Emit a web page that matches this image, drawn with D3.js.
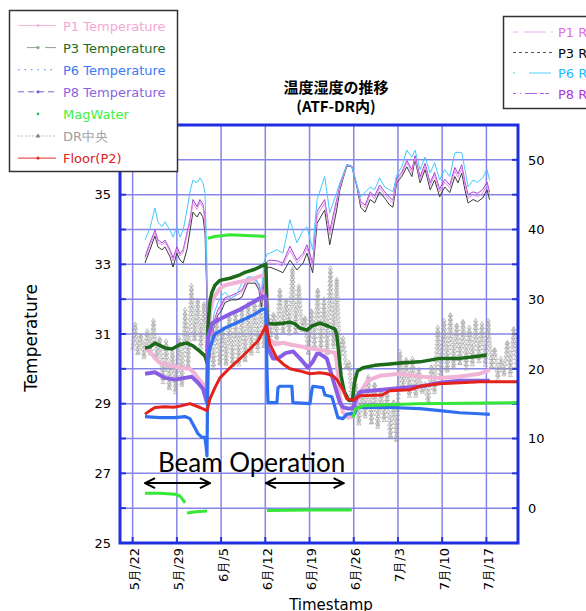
<!DOCTYPE html>
<html><head><meta charset="utf-8">
<script src="https://cdn.jsdelivr.net/npm/d3@7"></script>
<style>body{margin:0;background:#fff;} svg{display:block;}</style>
</head><body>
<svg id="c" width="586" height="611"></svg>
<script>
// ---------- DATA (x = days after 5/20) ----------
const dayTicks = [2, 9, 16, 23, 30, 37, 44, 51, 58];
const dayLabels = ["5月/22","5月/29","6月/5","6月/12","6月/19","6月/26","7月/3","7月/10","7月/17"];
const leftTicks = [25, 27, 29, 31, 33, 35];
const rightTicks = [0, 10, 20, 30, 40, 50];

const p3Temp = [[3.96,30.6],[4.75,30.63],[5.54,30.74],[7.12,30.6],[8.23,30.57],[9.49,30.7],[10.6,30.74],[11.55,30.66],[12.66,30.5],[13.45,30.37],[13.77,30.17],[13.92,31.2],[14.24,31.94],[14.56,32.2],[15.03,32.4],[15.82,32.54],[17.41,32.6],[18.99,32.7],[19.78,32.77],[21.36,32.86],[22.63,32.97],[23.1,33.0],[23.26,31.6],[23.42,31.3],[24.53,31.29],[25.79,31.31],[26.9,31.34],[27.69,31.29],[28.48,31.17],[29.59,31.11],[30.38,31.23],[31.65,31.31],[32.91,31.23],[34.02,31.14],[34.3,31.0],[34.65,30.4],[35.0,29.8],[35.5,29.35],[36.2,29.1],[36.8,29.1],[37.1,29.6],[37.6,29.94],[38.45,30.03],[40.35,30.1],[42.72,30.14],[44.3,30.17],[47.47,30.2],[50.63,30.3],[53.8,30.3],[56.96,30.37],[58.07,30.4]];
const p1Temp = [[3.96,30.6],[4.75,30.5],[5.54,30.3],[6.33,30.17],[7.12,30.14],[7.91,30.09],[9.49,30.03],[11.08,30.0],[11.87,29.86],[12.66,29.66],[13.45,29.5],[13.77,29.37],[13.92,30.6],[14.24,31.6],[14.56,31.9],[15.03,32.1],[15.82,32.3],[16.61,32.4],[18.99,32.5],[20.57,32.55],[22.0,32.65],[23.1,32.7],[23.26,31.5],[23.42,30.9],[24.53,30.7],[25.79,30.75],[26.9,30.7],[28.48,30.65],[29.59,30.6],[31.65,30.55],[32.91,30.5],[34.02,30.46],[34.3,30.2],[34.81,29.2],[35.28,28.75],[36.08,28.6],[36.71,28.63],[37.18,28.9],[37.66,29.2],[38.45,29.45],[39.2,29.66],[41.1,29.8],[44.3,29.86],[47.47,29.78],[50.63,29.74],[53.8,29.78],[56.96,29.86],[58.54,29.97]];
const p8Temp = [[3.96,29.86],[5.54,29.9],[7.12,29.74],[8.7,29.69],[10.28,29.74],[11.39,29.77],[12.34,29.6],[13.13,29.43],[13.77,29.03],[13.92,30.9],[14.56,31.3],[15.82,31.43],[17.41,31.57],[18.99,31.7],[20.57,31.86],[21.84,32.0],[22.94,32.09],[23.1,32.0],[23.26,31.0],[23.42,30.6],[24.2,30.3],[25.0,30.3],[26.2,30.45],[27.4,30.5],[28.48,30.3],[29.75,30.03],[30.5,30.2],[31.17,30.43],[31.65,30.43],[32.75,30.29],[33.7,29.7],[34.81,29.03],[35.28,28.9],[36.08,28.86],[36.87,28.86],[37.5,29.2],[38.0,29.34],[43.2,29.43],[47.47,29.49],[50.63,29.6],[53.8,29.66],[58.54,29.66]];
const p6Temp = [[3.96,28.63],[6.33,28.6],[8.7,28.6],[10.28,28.63],[11.08,28.57],[11.87,28.3],[12.34,28.14],[12.97,28.03],[13.45,28.03],[13.61,27.8],[13.77,27.5],[13.92,30.3],[14.24,30.6],[15.03,31.0],[16.61,31.17],[18.2,31.3],[19.78,31.43],[21.36,31.57],[22.47,31.7],[23.1,31.72],[23.26,30.0],[23.42,29.03],[24.84,29.03],[25.0,29.45],[25.3,29.5],[27.2,29.5],[27.37,29.03],[30.06,29.0],[30.38,29.4],[30.54,29.5],[32.1,29.46],[32.44,29.25],[33.54,29.2],[34.02,28.9],[34.49,28.6],[35.28,28.57],[35.92,28.7],[37.18,28.72],[37.5,28.89],[42.72,28.89],[47.47,28.86],[50.63,28.8],[53.8,28.74],[56.96,28.71],[58.54,28.69]];
const floorTemp = [[3.96,28.7],[4.75,28.8],[5.54,28.89],[7.12,28.91],[8.5,28.9],[9.49,28.93],[11.08,29.0],[12.66,28.89],[13.77,28.8],[14.24,29.14],[15.03,29.46],[15.82,29.74],[17.41,30.03],[18.99,30.29],[20.57,30.57],[21.84,30.8],[23.1,31.23],[23.26,31.14],[23.73,30.71],[24.84,30.3],[25.8,30.14],[26.9,30.0],[28.48,29.94],[30.06,29.86],[31.65,29.89],[32.75,29.86],[33.7,29.8],[34.3,29.7],[35.28,29.4],[35.9,29.14],[36.9,29.1],[38.0,29.23],[41.5,29.25],[42.72,29.37],[45.9,29.4],[47.47,29.5],[50.63,29.57],[53.8,29.6],[56.96,29.63],[62.97,29.63]];
const magWater = [[3.96,26.43],[6.33,26.43],[8.7,26.4],[9.49,26.35],[10.0,26.23],[10.3,26.15],[10.4,null],[10.6,25.86],[12.0,25.9],[13.77,25.92],[13.85,null],[13.92,33.75],[15.0,33.8],[17.4,33.85],[20.0,33.83],[23.1,33.8],[23.2,null],[23.26,25.93],[30.0,25.95],[36.7,25.95],[36.8,null],[36.87,28.6],[37.3,28.85],[38.5,28.94],[47.0,29.0],[63.0,29.03]];
const drCenter = [[2.0,30.6],[2.4,31.3],[2.8,30.4],[3.3,31.0],[3.8,30.3],[4.3,31.1],[4.8,30.4],[5.3,31.4],[5.8,30.3],[6.3,30.9],[6.8,29.6],[7.3,30.8],[7.8,29.4],[8.3,30.5],[8.8,29.3],[9.3,30.9],[9.8,29.5],[10.3,31.7],[10.8,30.0],[11.3,32.4],[11.8,30.8],[12.3,32.0],[12.8,30.6],[13.3,31.9],[13.8,30.5],[14.3,31.0],[14.8,30.0],[15.3,31.4],[15.8,30.1],[16.3,31.2],[16.8,30.1],[17.3,31.5],[17.8,30.1],[18.3,31.6],[18.8,30.1],[19.3,31.7],[19.8,30.2],[20.3,31.9],[20.8,30.4],[21.3,32.0],[21.8,30.5],[22.3,32.2],[22.8,30.6],[23.3,31.9],[23.8,30.9],[24.3,31.6],[24.8,30.8],[25.3,32.3],[25.8,31.0],[26.3,32.0],[26.8,31.0],[27.3,32.9],[27.8,31.0],[28.3,32.4],[28.8,31.1],[29.3,31.5],[29.8,30.4],[30.3,31.7],[30.8,30.6],[31.3,32.3],[31.8,30.5],[32.3,32.0],[32.8,30.4],[33.3,32.9],[33.8,30.6],[34.3,32.6],[34.8,30.3],[35.3,30.9],[35.8,30.0],[36.3,30.2],[36.8,28.6],[37.3,29.6],[37.8,28.4],[38.3,29.4],[38.8,28.6],[39.3,29.8],[39.8,28.4],[40.3,29.6],[40.8,28.3],[41.3,29.4],[41.8,28.5],[42.3,29.3],[42.8,28.0],[43.3,29.1],[43.8,27.9],[44.3,30.5],[44.8,29.4],[45.3,30.3],[45.8,29.2],[46.3,30.3],[46.8,29.2],[47.3,30.0],[47.8,29.3],[48.3,29.6],[48.8,29.0],[49.3,30.1],[49.8,29.3],[50.3,31.2],[50.8,29.8],[51.3,31.4],[51.8,29.9],[52.3,31.6],[52.8,30.0],[53.3,31.3],[53.8,30.1],[54.3,31.4],[54.8,30.0],[55.3,31.2],[55.8,30.1],[56.3,31.4],[56.8,30.2],[57.3,31.3],[57.8,30.1],[58.3,31.4],[58.8,30.0],[59.3,30.6],[59.8,29.7],[60.3,30.3],[60.8,29.8],[61.3,30.8],[61.8,29.8],[62.3,31.2],[62.8,30.0]];

// humidity (right axis)
const hDays = [3.96,4.75,5.54,6.0,6.65,7.12,7.91,8.4,9.0,9.5,10.0,10.6,11.1,11.55,12.2,12.65,13.13,13.45,13.77,13.92,
  14.4,14.9,15.5,16.1,16.6,17.6,18.5,19.3,20.2,20.9,21.4,22.0,22.4,22.8,23.3,
  23.73,24.84,25.79,26.9,28.0,29.0,29.59,30.5,31.2,32.4,33.2,34.3,34.8,35.9,36.7,37.5,38.1,38.8,39.6,40.3,41.1,41.9,42.7,43.2,43.8,44.6,45.4,46.2,46.7,47.5,48.3,49.1,49.8,50.6,51.4,52.2,53.0,53.5,54.1,54.6,55.1,55.9,56.6,57.4,58.1,58.5];
const p3RH = [35.2,37.1,39.1,37.5,37.1,37.5,36.1,34.6,36.6,35.6,35.2,37.1,39.9,42.5,41.8,42.5,41.8,39.5,29.9,18.4,
  23.4,26.3,27.7,28.4,29.5,29.9,29.9,30.3,32.3,32.3,32.3,31.3,28.9,32.8,34.5,
  34.6,34.2,33.8,35.6,34.2,35.2,36.6,33.8,40.9,42.8,37.8,42.8,45.7,49.1,49.0,46.1,43.2,42.5,44.3,43.8,45.4,44.5,43.5,43.2,46.7,47.6,49.0,47.6,50.0,46.7,48.6,45.7,47.1,44.7,46.1,45.3,47.6,46.7,48.1,45.7,43.8,44.3,44.0,44.5,45.7,44.3];
const p6RH = [38.5,40.2,43.1,41.1,40.4,41.1,39.9,38.9,40.4,38.9,39.9,42.8,45.5,47.1,46.7,47.4,46.7,45.3,35.0,19.0,
  25.0,28.0,29.5,30.5,31.0,30.0,30.8,32.3,33.2,33.2,33.0,32.0,31.3,35.4,36.5,
  36.6,37.1,36.6,41.4,38.1,39.9,40.4,37.1,44.3,47.6,42.4,45.3,46.7,49.3,49.0,46.4,44.7,45.3,46.1,45.7,47.4,46.1,45.7,45.4,47.8,49.0,51.4,50.4,51.4,48.6,50.4,48.1,49.6,47.1,48.6,47.6,51.0,51.1,51.0,48.6,46.1,47.1,46.8,47.4,48.6,47.1];
const p8RH = [36.1,38.1,39.9,38.5,38.1,38.5,37.1,35.9,37.5,36.5,37.1,39.5,41.5,44.3,43.3,44.3,43.6,41.8,32.0,18.7,
  24.0,27.0,28.5,29.3,30.2,30.5,30.9,31.3,33.0,33.0,32.8,32.2,29.9,33.8,35.4,
  35.6,35.5,35.2,37.6,35.6,36.6,37.8,35.2,42.6,44.3,39.8,44.3,46.3,49.3,49.1,46.4,44.0,43.5,45.4,44.8,46.4,45.4,44.6,44.2,47.4,48.2,49.9,48.6,50.6,47.6,49.5,46.7,48.2,45.8,47.2,46.4,48.9,48.0,49.3,46.9,45.0,45.4,45.2,45.7,46.8,45.4];
const p1RH = [35.8,37.7,39.6,38.1,37.8,38.2,36.8,35.5,37.2,36.2,36.7,39.1,41.1,43.8,42.9,43.9,43.2,41.3,31.0,18.6,
  23.8,26.7,28.2,29.0,29.9,30.2,30.6,31.0,32.7,32.7,32.5,31.8,29.5,33.4,35.0,
  35.2,35.0,34.8,37.0,35.2,36.2,37.3,34.8,42.0,43.8,39.2,43.8,46.0,49.2,49.0,46.3,43.7,43.1,45.0,44.4,46.0,45.0,44.2,43.8,47.0,47.9,49.6,48.2,50.3,47.2,49.1,46.3,47.8,45.4,46.8,46.0,48.4,47.5,48.8,46.4,44.5,45.0,44.7,45.2,46.4,45.0];

const legendLeft = ["P1 Temperature","P3 Temperature","P6 Temperature","P8 Temperature","MagWater","DR中央","Floor(P2)"];
const legendRight = ["P1 Relative Humidity","P3 Relative Humidity","P6 Relative Humidity","P8 Relative Humidity"];
const titleLines = ["温度湿度の推移","(ATF-DR内)"];
// annotation: [startDay, endDay, temperature]
const beamArrows = [[3.96,14.24,26.72],[23.1,35.4,26.72]];
const beamText = {day:6.0, temp:27.04, text:"Beam Operation"};

// ---------- DRAW ----------
const svg = d3.select("#c");
const L=120, R=518, T=125, B=543;
const x = d3.scaleLinear().domain([0,63]).range([L,R]);
const yL = d3.scaleLinear().domain([25,37]).range([B,T]);
const yR = d3.scaleLinear().domain([-5,55]).range([B,T]);
const FONT = "'DejaVu Sans', sans-serif";

svg.append("rect").attr("x",L).attr("y",T).attr("width",R-L).attr("height",B-T).attr("fill","#fff");

// grid
const gridCol = "#8585ea";
svg.append("g").selectAll("line").data(d3.range(26,37)).join("line")
  .attr("x1",L).attr("x2",R).attr("y1",d=>yL(d)).attr("y2",d=>yL(d))
  .attr("stroke",gridCol).attr("stroke-width",1.5);
svg.append("g").selectAll("line").data(dayTicks).join("line")
  .attr("y1",T).attr("y2",B).attr("x1",d=>x(d)).attr("x2",d=>x(d))
  .attr("stroke",gridCol).attr("stroke-width",1.5);

// inward ticks
const tickCol = "#2a35d8";
svg.append("g").selectAll("line").data(d3.range(25,38)).join("line")
  .attr("x1",L).attr("x2",L+6).attr("y1",d=>yL(d)).attr("y2",d=>yL(d)).attr("stroke",tickCol).attr("stroke-width",2);
svg.append("g").selectAll("line").data(d3.range(-5,56,5)).join("line")
  .attr("x1",R-6).attr("x2",R).attr("y1",d=>yR(d)).attr("y2",d=>yR(d)).attr("stroke",tickCol).attr("stroke-width",2);
svg.append("g").selectAll("line").data(dayTicks).join("line")
  .attr("y1",B-6).attr("y2",B).attr("x1",d=>x(d)).attr("x2",d=>x(d)).attr("stroke",tickCol).attr("stroke-width",2);

const lineL = d3.line().defined(d=>d[1]!=null).x(d=>x(d[0])).y(d=>yL(d[1]));
const lineR = d3.line().x(d=>x(d[0])).y(d=>yR(d[1]));

const plot = svg.append("g");

// DR center: dotted grey zigzag with triangle markers along it
const drPath = plot.append("path").datum(drCenter).attr("d",lineL)
  .attr("fill","none").attr("stroke","#b4b4b4").attr("stroke-width",0.6).attr("stroke-dasharray","1,2");
{
  const node = drPath.node(), len = node.getTotalLength();
  const pts = d3.range(0,len,4.2).map(l=>node.getPointAtLength(l));
  plot.append("g").selectAll("path").data(pts).join("path")
    .attr("d", d3.symbol(d3.symbolTriangle, 7))
    .attr("transform", p=>`translate(${p.x},${p.y})`)
    .attr("fill","none").attr("stroke","#9c9c9c").attr("stroke-width",0.6);
}

// humidity lines
const zip = vals => hDays.map((d,i)=>[d, vals[i]]);
const hum = [[p3RH,"#3a3a3a"],[p8RH,"#a642d8"],[p1RH,"#e48ae8"],[p6RH,"#44c8ff"]];
hum.forEach(([v,c])=>{
  plot.append("path").datum(zip(v)).attr("d",lineR).attr("fill","none").attr("stroke",c).attr("stroke-width",1);
});

// temperatures
const temps = [
  [p1Temp,"#f2b4d6",4],
  [p3Temp,"#1b6b1b",3.5],
  [p8Temp,"#8a5ee4",4],
  [p6Temp,"#2f6ff2",3.2],
  [floorTemp,"#e3221c",3],
  [magWater,"#36e836",3]
];
temps.forEach(([data,c,w])=>{
  plot.append("path").datum(data).attr("d",lineL).attr("fill","none")
    .attr("stroke",c).attr("stroke-width",w).attr("stroke-linejoin","round");
});

// frame
svg.append("rect").attr("x",L).attr("y",T).attr("width",R-L).attr("height",B-T)
  .attr("fill","none").attr("stroke","#1f2ee0").attr("stroke-width",3);

// axis labels
const gl = svg.append("g").attr("transform",`translate(${L},0)`)
  .call(d3.axisLeft(yL).tickValues(leftTicks).tickSize(0).tickPadding(9).tickFormat(d3.format("d")));
gl.select(".domain").remove();
gl.selectAll("text").attr("font-family",FONT).attr("font-size",13).attr("fill","#000");
const gr = svg.append("g").attr("transform",`translate(${R},0)`)
  .call(d3.axisRight(yR).tickValues(rightTicks).tickSize(0).tickPadding(10).tickFormat(d3.format("d")));
gr.select(".domain").remove();
gr.selectAll("text").attr("font-family",FONT).attr("font-size",13).attr("fill","#000");

svg.append("g").selectAll("text").data(dayTicks).join("text")
  .attr("transform",(d)=>`translate(${x(d)+3},548) rotate(-90)`)
  .attr("text-anchor","end").attr("dominant-baseline","middle")
  .attr("font-family",FONT).attr("font-size",13).attr("fill","#000")
  .text((d,i)=>dayLabels[i]);

svg.append("text").attr("transform","translate(37,338) rotate(-90)").attr("text-anchor","middle")
  .attr("font-family",FONT).attr("font-size",17).text("Temperature");
svg.append("text").attr("x",331).attr("y",610).attr("text-anchor","middle")
  .attr("font-family",FONT).attr("font-size",15).text("Timestamp");

// title
svg.append("g").selectAll("text").data(titleLines).join("text")
  .attr("x",336).attr("y",(d,i)=>93+i*19).attr("text-anchor","middle")
  .attr("font-family","'Noto Sans CJK JP', sans-serif").attr("font-weight","bold").attr("font-size",15)
  .text(d=>d);

// beam operation annotation
svg.append("defs").append("marker").attr("id","ah").attr("viewBox","0 0 12 12")
  .attr("refX",11).attr("refY",6).attr("markerWidth",12).attr("markerHeight",12)
  .attr("markerUnits","userSpaceOnUse").attr("orient","auto-start-reverse")
  .append("path").attr("d","M1,1 L11,6 L1,11").attr("fill","none").attr("stroke","#000").attr("stroke-width",2);
svg.append("g").selectAll("line").data(beamArrows).join("line")
  .attr("x1",d=>x(d[0])).attr("x2",d=>x(d[1])).attr("y1",d=>yL(d[2])).attr("y2",d=>yL(d[2]))
  .attr("stroke","#000").attr("stroke-width",2)
  .attr("marker-start","url(#ah)").attr("marker-end","url(#ah)");
svg.append("text").attr("x",x(beamText.day)).attr("y",yL(beamText.temp))
  .attr("font-family","Lato, 'Open Sans', sans-serif").attr("font-size",26).attr("fill","#000")
  .text(beamText.text);

// left legend
const lg = svg.append("g");
lg.append("rect").attr("x",9.5).attr("y",10.5).attr("width",168).attr("height",161)
  .attr("fill","#fff").attr("stroke","#333").attr("stroke-width",1.5);
const leftCols = ["#f5a8d5","#1b6b1b","#3a7af5","#8c64e0","#3ef03e","#a0a0a0","#e02020"];
const sampleCols = ["#f5b8d8","#8aa48a","#4a80f0","#7a60d0","#20c060","#a8a8a8","#e03030"];
const sampleDash = [null,"12,6",  "1.5,5","6,4",null,"1.5,2",null];
legendLeft.forEach((name,i)=>{
  const yy = 25.5 + i*22.1;
  if (i!==4) {
    lg.append("line").attr("x1",i===1?27:18).attr("x2",56).attr("y1",yy).attr("y2",yy)
      .attr("stroke",sampleCols[i]).attr("stroke-width",1).attr("stroke-dasharray",sampleDash[i]);
  }
  if (i===5) {
    lg.append("path").attr("d",d3.symbol(d3.symbolTriangle,10)).attr("transform",`translate(38,${yy})`).attr("fill","#888");
  } else if (i!==2) {
    lg.append("circle").attr("cx",38).attr("cy",yy).attr("r",i===4?1.3:1.6).attr("fill",sampleCols[i]);
  }
  lg.append("text").attr("x",63).attr("y",yy+5).attr("font-family",FONT).attr("font-size",13)
    .attr("fill",leftCols[i]).text(name);
});

// right legend
const rg = svg.append("g");
rg.append("rect").attr("x",503.5).attr("y",16.5).attr("width",200).attr("height",92)
  .attr("fill","#fff").attr("stroke","#333").attr("stroke-width",1.5);
const rightCols = ["#e070e0","#000","#22bbff","#a838d8"];
const rSample = ["#f0a8f0","#555","#55ccff","#b060e0"];
const rDash = ["5,6,22","3,3","2,14,22","3,4,1,4,12"];
legendRight.forEach((name,i)=>{
  const yy = 32 + i*20.5;
  rg.append("line").attr("x1",513).attr("x2",553).attr("y1",yy).attr("y2",yy)
    .attr("stroke",rSample[i]).attr("stroke-width",1).attr("stroke-dasharray",rDash[i]);
  rg.append("text").attr("x",558).attr("y",yy+5).attr("font-family",FONT).attr("font-size",13)
    .attr("fill",rightCols[i]).text(name);
});
</script>
</body></html>
